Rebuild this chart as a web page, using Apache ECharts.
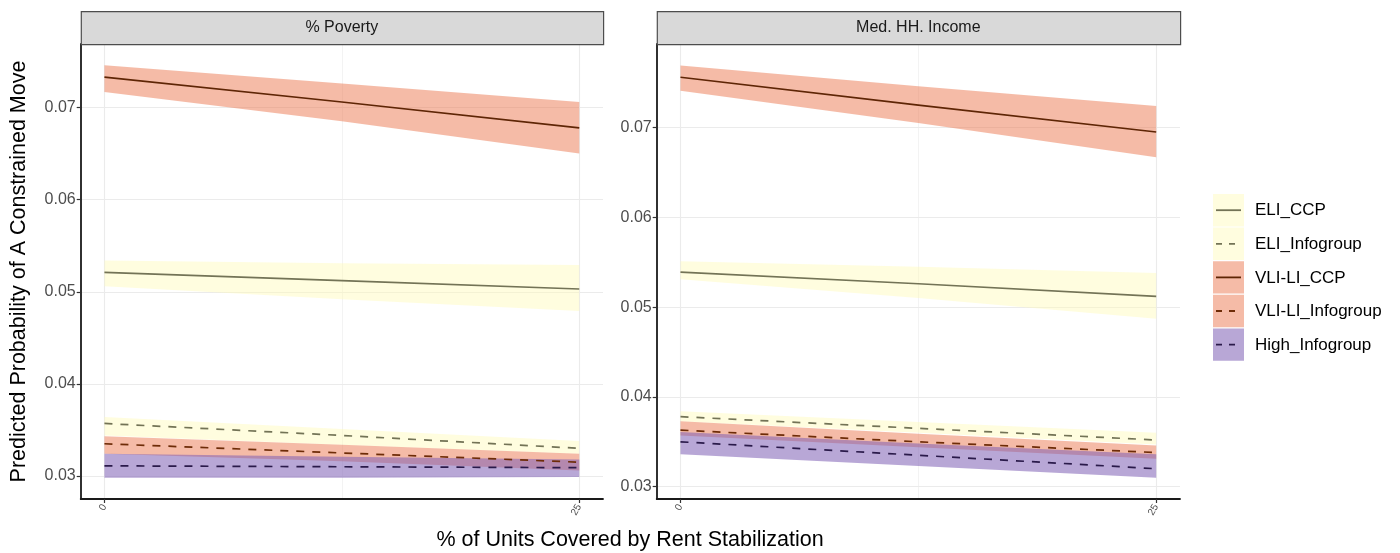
<!DOCTYPE html>
<html>
<head>
<meta charset="utf-8">
<script src="https://cdn.jsdelivr.net/npm/echarts@6/dist/echarts.min.js"></script>
<style>
  html, body { margin: 0; padding: 0; background: #fff; }
  #chart { width: 1400px; height: 553px; }
</style>
</head>
<body>
<div id="chart"></div>
<script>
// x positions of the predictions (% of units covered)
var xVals = [0, 12.5, 25];
var groups = ['ELI_CCP', 'ELI_Infogroup', 'VLI-LI_CCP', 'VLI-LI_Infogroup', 'High_Infogroup'];
var panels = ['% Poverty', 'Med. HH. Income'];

// % Poverty panel: fitted value, lower and upper bound per group
var povFit = [
  [0.0521, 0.0512, 0.0503],
  [0.0357, 0.0344, 0.0330],
  [0.0733, 0.0706, 0.0678],
  [0.0335, 0.0325, 0.0315],
  [0.0311, 0.0310, 0.0309]
];
var povLo = [
  [0.0506, 0.0492, 0.0479],
  [0.0344, 0.0334, 0.0324],
  [0.0717, 0.0685, 0.0650],
  [0.0324, 0.0316, 0.0306],
  [0.0298, 0.0298, 0.0299]
];
var povHi = [
  [0.0534, 0.0531, 0.0529],
  [0.0364, 0.0351, 0.0338],
  [0.0746, 0.0726, 0.0706],
  [0.0343, 0.0334, 0.0324],
  [0.0324, 0.0321, 0.0318]
];

// Med. HH. Income panel
var incFit = [
  [0.0539, 0.0526, 0.0512],
  [0.0378, 0.0365, 0.0352],
  [0.0756, 0.0725, 0.0695],
  [0.0363, 0.0350, 0.0338],
  [0.0350, 0.0335, 0.0320]
];
var incLo = [
  [0.0531, 0.0510, 0.0487],
  [0.0373, 0.0360, 0.0347],
  [0.0741, 0.0705, 0.0667],
  [0.0357, 0.0344, 0.0331],
  [0.0336, 0.0323, 0.0310]
];
var incHi = [
  [0.0551, 0.0545, 0.0538],
  [0.0384, 0.0372, 0.0360],
  [0.0769, 0.0746, 0.0724],
  [0.0373, 0.0359, 0.0346],
  [0.0361, 0.0348, 0.0336]
];

// ticks and grid lines
var yTicks = [0.03, 0.04, 0.05, 0.06, 0.07];
var yMinor = [0.035, 0.045, 0.055, 0.065, 0.075];
var xTicks = [0, 25];
var xMinor = [12.5];

// styles
var lineColors = ['#737356', '#737356', '#5e2505', '#6e2c08', '#2a1a4a'];
var fillColors = ['rgba(255,250,185,0.45)', 'rgba(255,250,185,0.45)', 'rgba(235,120,80,0.5)',
                  'rgba(235,120,80,0.5)', 'rgba(125,95,180,0.55)'];
var dashed = [false, true, false, true, true];

var FONT = 'Liberation Sans, Arial, sans-serif';
var gridBoxes = [
  { left: 80.7, top: 44, width: 522.3, height: 455 },
  { left: 656.7, top: 44, width: 523.3, height: 455 }
];
var yRanges = [[0.0275, 0.0769], [0.02863, 0.0793]];

var chart = echarts.init(document.getElementById('chart'), null, { renderer: 'canvas' });

function bandSeries(p, lo, hi, fill) {
  return {
    type: 'custom',
    xAxisIndex: p, yAxisIndex: p,
    silent: true, z: 2,
    data: xVals.map(function (x, k) { return [x, lo[k], hi[k]]; }),
    encode: { x: 0, y: [1, 2] },
    renderItem: function (params, api) {
      if (params.dataIndex !== 0) return null;
      var pts = [], k;
      for (k = 0; k < xVals.length; k++) pts.push(api.coord([xVals[k], hi[k]]));
      for (k = xVals.length - 1; k >= 0; k--) pts.push(api.coord([xVals[k], lo[k]]));
      return { type: 'polygon', shape: { points: pts }, style: { fill: fill } };
    }
  };
}

function lineSeries(p, g, fit) {
  return {
    name: groups[g],
    type: 'line',
    xAxisIndex: p, yAxisIndex: p,
    data: xVals.map(function (x, k) { return [x, fit[k]]; }),
    symbol: 'none', silent: true, z: 4,
    lineStyle: { color: lineColors[g], width: 1.7, type: dashed[g] ? [8, 8] : 'solid' }
  };
}

function gridSeries(p) {
  var major = yTicks.map(function (v) { return { yAxis: v, lineStyle: { width: 1.1, color: '#ebebeb' } }; })
    .concat(xTicks.map(function (v) { return { xAxis: v, lineStyle: { width: 1.1, color: '#ebebeb' } }; }));
  var minor = yMinor.map(function (v) { return { yAxis: v, lineStyle: { width: 0.8, color: '#f0f0f0' } }; })
    .concat(xMinor.map(function (v) { return { xAxis: v, lineStyle: { width: 0.8, color: '#f0f0f0' } }; }));
  return {
    type: 'line', xAxisIndex: p, yAxisIndex: p, data: [], z: 0, silent: true,
    markLine: {
      silent: true, symbol: 'none', animation: false, z: 0,
      label: { show: false },
      lineStyle: { type: 'solid' },
      data: minor.concat(major)
    }
  };
}

var series = [];
var fits = [povFit, incFit], los = [povLo, incLo], his = [povHi, incHi];
for (var p = 0; p < 2; p++) {
  series.push(gridSeries(p));
  for (var g = 0; g < groups.length; g++) series.push(bandSeries(p, los[p][g], his[p][g], fillColors[g]));
  for (var g2 = 0; g2 < groups.length; g2++) series.push(lineSeries(p, g2, fits[p][g2]));
}

var xAxes = [], yAxes = [];
for (var i = 0; i < 2; i++) {
  xAxes.push({
    type: 'value', gridIndex: i, min: -1.25, max: 26.25,
    splitLine: { show: false },
    axisLine: { onZero: false, lineStyle: { color: '#1a1a1a', width: 1.8 } },
    axisTick: { customValues: xTicks, length: 4, lineStyle: { color: '#333', width: 1.2 } },
    axisLabel: { customValues: xTicks, rotate: 60, fontSize: 10, color: '#4d4d4d', fontFamily: FONT, margin: 6 }
  });
  yAxes.push({
    type: 'value', gridIndex: i, min: yRanges[i][0], max: yRanges[i][1],
    splitLine: { show: false },
    axisLine: { show: true, onZero: false, lineStyle: { color: '#1a1a1a', width: 1.8 } },
    axisTick: { show: true, customValues: yTicks, length: 4, lineStyle: { color: '#333', width: 1.2 } },
    axisLabel: {
      customValues: yTicks, fontSize: 16, color: '#4d4d4d', fontFamily: FONT, margin: 5,
      formatter: function (v) { return v.toFixed(2); }
    }
  });
}

// strips, titles and legend
var graphics = [];
panels.forEach(function (name, i) {
  var b = gridBoxes[i];
  graphics.push({
    type: 'rect', left: b.left, top: 11,
    shape: { width: b.width, height: 33 },
    style: { fill: '#d9d9d9', stroke: '#4d4d4d', lineWidth: 1.2 }, z: 10
  });
  graphics.push({
    type: 'text', x: b.left + b.width / 2, y: 28,
    style: { text: name, fill: '#1a1a1a', font: '16px ' + FONT, align: 'center', verticalAlign: 'middle' }, z: 11
  });
});
graphics.push({
  type: 'text', x: 19, y: 271.5, rotation: Math.PI / 2,
  style: { text: 'Predicted Probability of A Constrained Move', fill: '#000', font: '21.5px ' + FONT,
           align: 'center', verticalAlign: 'middle' }
});
graphics.push({
  type: 'text', x: 630, y: 540,
  style: { text: '% of Units Covered by Rent Stabilization', fill: '#000', font: '21.5px ' + FONT,
           align: 'center', verticalAlign: 'middle' }
});
groups.forEach(function (name, g) {
  var top = 194 + g * 33.6;
  graphics.push({ type: 'rect', left: 1213, top: top, shape: { width: 31, height: 32.4 },
                  style: { fill: fillColors[g] } });
  graphics.push({ type: 'line', shape: { x1: 1216, y1: top + 16.2, x2: 1241, y2: top + 16.2 },
                  style: { stroke: lineColors[g], lineWidth: 1.8, lineDash: dashed[g] ? [6, 7] : null } });
  graphics.push({ type: 'text', x: 1255, y: top + 16.7,
                  style: { text: name, fill: '#000', font: '17px ' + FONT, verticalAlign: 'middle' } });
});

var option = {
  animation: false,
  backgroundColor: '#fff',
  grid: gridBoxes.map(function (b) { return { left: b.left, top: b.top, width: b.width, height: b.height }; }),
  xAxis: xAxes,
  yAxis: yAxes,
  series: series,
  graphic: graphics
};
chart.setOption(option);
</script>
</body>
</html>
